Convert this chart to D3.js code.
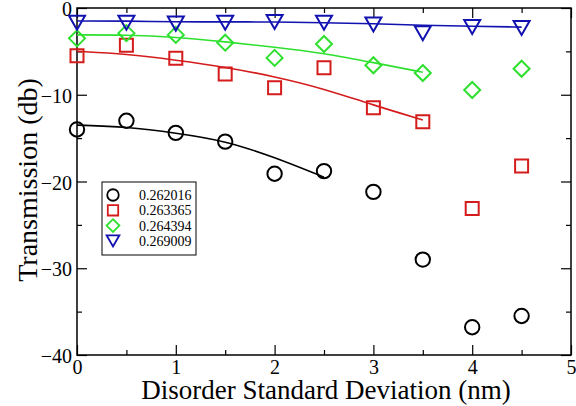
<!DOCTYPE html>
<html>
<head>
<meta charset="utf-8">
<title>Transmission vs disorder</title>
<script src="https://cdn.jsdelivr.net/npm/d3@7/dist/d3.min.js"></script>
<style>
  body { margin: 0; background: #fff; }
  svg text { font-family: "Liberation Serif", "Times New Roman", Times, "Nimbus Roman", "DejaVu Serif", serif; }
</style>
</head>
<body>
<svg id="chart" width="576" height="406"></svg>
<script>
// disorder std dev (nm)
const xs = [0, 0.5, 1, 1.5, 2, 2.5, 3, 3.5, 4, 4.5];
const labels = ['0.262016', '0.263365', '0.264394', '0.269009'];
const colors = ['#000000', '#d41c1c', '#2ee02e', '#1212b0'];

// measured points
const s1 = [-14.0, -13.0, -14.4, -15.4, -19.1, -18.8, -21.2, -29.0, -36.8, -35.5];
const s2 = [-5.5, -4.3, -5.8, -7.6, -9.2, -6.9, -11.5, -13.1, -23.1, -18.2];
const s3 = [-3.5, -2.9, -3.1, -4.0, -5.75, -4.15, -6.6, -7.5, -9.45, -7.0];
const s4 = [-1.7, -1.7, -1.8, -1.7, -1.6, -1.7, -1.9, -2.9, -2.2, -2.3];

// fitted curves (same x steps, shorter range)
const f1 = [-13.5, -13.7, -14.4, -15.3, -17.2, -19.5];
const f2 = [-5.0, -5.3, -6.0, -6.8, -7.9, -9.3, -11.2, -12.9];
const f3 = [-3.1, -3.1, -3.35, -3.9, -4.5, -5.2, -6.3, -7.4];
const f4 = [-1.5, -1.5, -1.6, -1.6, -1.6, -1.7, -1.8, -2.0, -2.1, -2.2];

const series = [s1, s2, s3, s4];
const fits = [f1, f2, f3, f4];

const xTicks = [0, 1, 2, 3, 4, 5];
const xMinor = [0.5, 1.5, 2.5, 3.5, 4.5];
const yTicks = [0, -10, -20, -30, -40];
const yMinor = [-5, -15, -25, -35];

const svg = d3.select('#chart');
const pLeft = 77, pRight = 571, pTop = 8, pBottom = 355;

const x = d3.scaleLinear().domain([0, 5]).range([pLeft, pRight]);
const y = d3.scaleLinear().domain([-40, 0]).range([pBottom, pTop]);

svg.append('rect').attr('width', 576).attr('height', 406).attr('fill', '#fff');

// ticks on all four sides, pointing inward
function tickAxis(axis, vals, size, tx, ty, showLabels) {
    const g = svg.append('g').attr('transform', `translate(${tx},${ty})`)
        .call(axis.tickValues(vals).tickSize(-size).tickPadding(size + 6)
            .tickFormat(showLabels ? d3.format('d') : ''));
    g.select('.domain').remove();
    g.attr('font-family', null);
    g.selectAll('.tick line').attr('stroke', '#000').attr('stroke-width', 1.2);
    g.selectAll('.tick text').attr('font-size', 20).attr('fill', '#000');
    return g;
}
const gx = tickAxis(d3.axisBottom(x), xTicks, 10, 0, pBottom, true);
gx.selectAll('.tick text').attr('y', 5);
tickAxis(d3.axisBottom(x), xMinor, 5, 0, pBottom, false);
tickAxis(d3.axisTop(x), xTicks, 10, 0, pTop, false);
tickAxis(d3.axisTop(x), xMinor, 5, 0, pTop, false);
const gy = tickAxis(d3.axisLeft(y), yTicks, 10, pLeft, 0, true);
gy.selectAll('.tick text').attr('x', -5).attr('dy', '0.38em');
tickAxis(d3.axisLeft(y), yMinor, 5, pLeft, 0, false);
tickAxis(d3.axisRight(y), yTicks, 10, pRight, 0, false);
tickAxis(d3.axisRight(y), yMinor, 5, pRight, 0, false);

svg.append('rect')
    .attr('x', pLeft).attr('y', pTop)
    .attr('width', pRight - pLeft).attr('height', pBottom - pTop)
    .attr('fill', 'none').attr('stroke', '#000').attr('stroke-width', 1.5);

// fitted lines
const line = d3.line()
    .x((d, i) => x(xs[i]))
    .y(d => y(d))
    .curve(d3.curveBasis);

fits.forEach((f, k) => {
    svg.append('path')
        .attr('d', line(f))
        .attr('fill', 'none')
        .attr('stroke', colors[k])
        .attr('stroke-width', 1.6);
});

// marker shapes: circle, square, diamond, down-triangle
function shape(k, s) {
    if (k === 0) {
        const r = 7.2 * s;
        return `M${r},0A${r},${r} 0 1,1 ${-r},0A${r},${r} 0 1,1 ${r},0Z`;
    }
    if (k === 1) { const h = 6.5 * s; return `M${-h},${-h}H${h}V${h}H${-h}Z`; }
    if (k === 2) { const h = 8 * s; return `M0,${-h}L${h},0L0,${h}L${-h},0Z`; }
    const w = 8 * s, h = 7 * s;
    return `M${-w},${-h}H${w}L0,${h}Z`;
}

series.forEach((vals, k) => {
    svg.append('g').selectAll('path')
        .data(vals)
        .enter().append('path')
        .attr('transform', (d, i) => `translate(${x(xs[i])},${y(d)})`)
        .attr('d', shape(k, 1))
        .attr('fill', 'none')
        .attr('stroke', colors[k])
        .attr('stroke-width', 2);
});

// legend
const lg = svg.append('g');
lg.append('rect')
    .attr('x', 102).attr('y', 182).attr('width', 94).attr('height', 73)
    .attr('fill', '#fff').attr('stroke', '#000').attr('stroke-width', 1);
labels.forEach((lab, k) => {
    const cy = 195 + k * 15.3;
    lg.append('path')
        .attr('transform', `translate(113,${cy})`)
        .attr('d', shape(k, 0.8))
        .attr('fill', 'none').attr('stroke', colors[k]).attr('stroke-width', 1.8);
    lg.append('text')
        .attr('x', 139).attr('y', cy + 5)
        .attr('font-size', 14)
        .text(lab);
});

// axis titles
svg.append('text')
    .attr('x', (pLeft + pRight) / 2 + 2).attr('y', 399)
    .attr('text-anchor', 'middle').attr('font-size', 27)
    .text('Disorder Standard Deviation (nm)');
svg.append('text')
    .attr('transform', 'translate(37,180) rotate(-90)')
    .attr('text-anchor', 'middle').attr('font-size', 28)
    .text('Transmission (db)');
</script>
</body>
</html>
